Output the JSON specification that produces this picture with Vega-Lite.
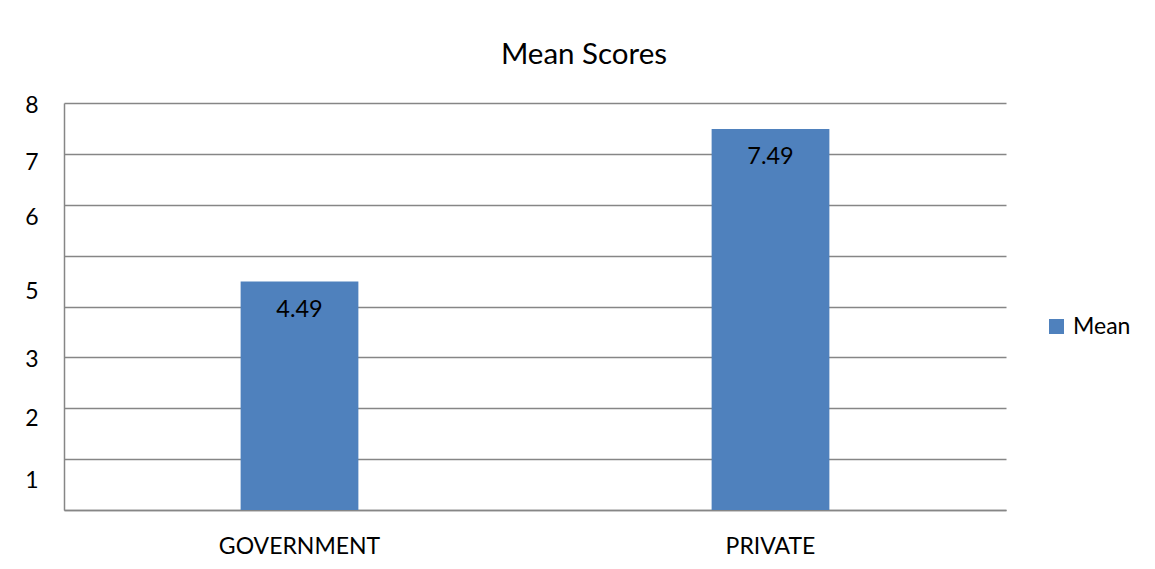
{
  "$schema": "https://vega.github.io/schema/vega-lite/v6.json",
  "width": 942,
  "height": 407,
  "autosize": {"type": "none"},
  "padding": {"left": 64, "top": 103, "right": 149, "bottom": 59},
  "background": "white",
  "config": {"view": {"stroke": null}, "font": "Lato"},
  "title": {"text": "Mean Scores", "fontSize": 29.5, "fontWeight": "normal", "font": "Lato", "color": "#000000", "anchor": "middle", "dx": 49, "offset": 1, "baseline": "alphabetic"},
  "data": {"values": [
    {"sector": "GOVERNMENT", "series": "Mean", "score": 4.49},
    {"sector": "PRIVATE", "series": "Mean", "score": 7.49}
  ]},
  "layer": [
    {
      "mark": {"type": "bar"},
      "encoding": {
        "x": {"field": "sector", "type": "nominal", "sort": null,
          "scale": {"paddingInner": 0.75, "paddingOuter": 0.375},
          "axis": {"title": null, "labelAngle": 0, "ticks": false, "domain": true, "domainColor": "#868686", "domainWidth": 1.5, "labelFontSize": 23, "labelColor": "#000000", "labelFont": "Lato", "labelPadding": 25}},
        "y": {"field": "score", "type": "quantitative",
          "scale": {"domain": [0, 8], "nice": false},
          "axis": {"title": null, "values": [0, 1, 2, 3, 4, 5, 6, 7, 8], "grid": true, "gridColor": "#868686", "gridWidth": 1.5, "domain": true, "domainColor": "#868686", "domainWidth": 1.5, "ticks": false, "labelFontSize": 23, "labelColor": "#000000", "labelFont": "Lato", "labelPadding": 26,
            "labelExpr": "datum.value==8?'8':datum.value==7?'7':datum.value==6?'6':datum.value==4?'5':datum.value==3?'3':datum.value==2?'2':datum.value==1?'1':''",
            "labelOffset": {"condition": [
              {"test": "datum.value==8", "value": 2},
              {"test": "datum.value==7", "value": 9},
              {"test": "datum.value==6", "value": 13},
              {"test": "datum.value==4", "value": -15},
              {"test": "datum.value==3", "value": 2},
              {"test": "datum.value==2", "value": 10},
              {"test": "datum.value==1", "value": 21}
            ], "value": 0}}},
        "color": {"field": "series", "type": "nominal",
          "scale": {"range": ["#4F81BD"]},
          "legend": {"title": null, "orient": "none", "legendX": 981, "legendY": 212, "symbolType": "square", "symbolSize": 225, "symbolStrokeWidth": 0, "labelFontSize": 23, "labelFont": "Lato", "labelColor": "#000000", "labelOffset": 5}}
      }
    },
    {
      "mark": {"type": "text", "baseline": "middle", "dy": 28, "fontSize": 23.5, "font": "Lato", "color": "#000000"},
      "encoding": {
        "x": {"field": "sector", "type": "nominal", "sort": null},
        "y": {"field": "score", "type": "quantitative"},
        "text": {"field": "score", "type": "quantitative", "format": ".2f"}
      }
    }
  ]
}
